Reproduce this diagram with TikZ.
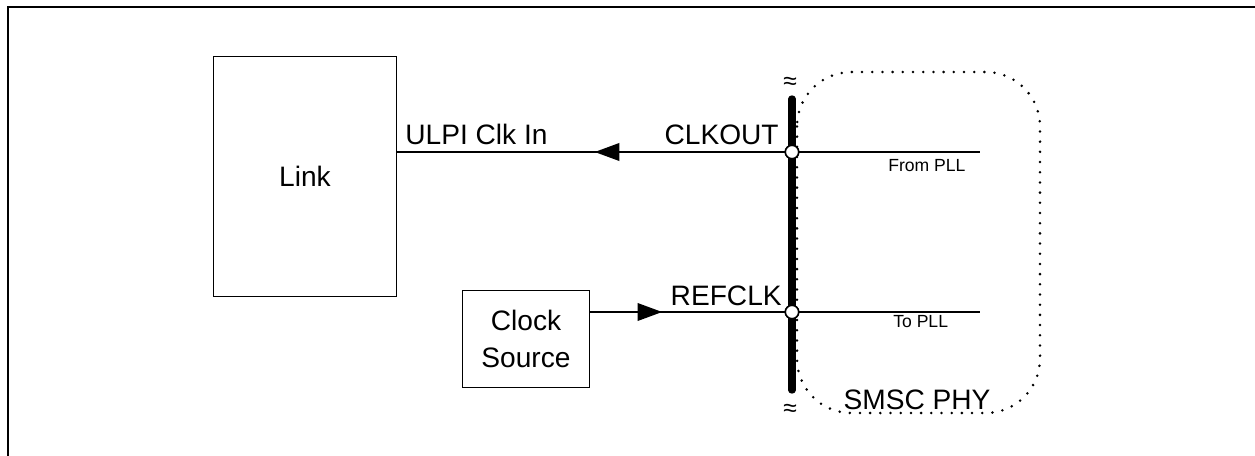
\documentclass[tikz,border=0pt]{standalone}
\usepackage{fontspec}
\setmainfont{Liberation Sans}
\usetikzlibrary{arrows.meta,decorations.markings}
\tikzset{
  box/.style={draw,line width=0.6pt,align=center,inner sep=0pt,font=\fontsize{16}{21}\selectfont},
  wire/.style={line width=1.05pt},
  bus/.style={line width=4.2pt,line cap=round},
  junction/.style={circle,draw,fill=white,line width=0.9pt,minimum size=7.6pt,inner sep=0pt},
  midarrow/.style={postaction={decorate},decoration={markings,mark=at position #1 with {\arrow{Triangle[length=14pt,width=10pt]}}}},
  phybound/.style={line width=1.6pt,dash pattern=on 0pt off 5.8pt,line cap=round,rounded corners=31pt},
  lbl/.style={font=\fontsize{16}{19}\selectfont,inner sep=0pt},
  smalllbl/.style={font=\fontsize{10}{12}\selectfont,inner sep=0pt},
  approxlbl/.style={font=\fontsize{14}{14}\selectfont,inner sep=0pt}
}
\begin{document}
\begin{tikzpicture}[x=0.02cm,y=-0.02cm]
\useasboundingbox (0,0) rectangle (1255,456);
% outer frame
\draw[line width=1.2pt] (8,456) -- (8,7) -- (1255,7);
% PHY boundary
\draw[phybound] (797,72) rectangle (1040,413);
\node[lbl,anchor=base] (phy) at (917,409) {SMSC PHY};
% blocks
\node[box,minimum width=104.3pt,minimum height=136.6pt] (link) at (305,176.5) {Link};
\node[box,minimum width=72.6pt,minimum height=55.6pt] (clksrc) at (526,339) {Clock\\Source};
% bus
\coordinate (bustop) at (792,99);
\coordinate (busbot) at (792,390);
\node[approxlbl] (approxtop) at (790,83) {≈};
\node[approxlbl] (approxbot) at (790,410) {≈};
\node[junction] (jout) at (792,152) {};
\node[junction] (jref) at (792,312) {};
\coordinate (fromPLL) at (980,152);
\coordinate (toPLL) at (980,312);
% wires
\draw[wire,midarrow=0.49] (jout.west) -- (link.east |- jout);
\draw[wire,midarrow=0.37] (clksrc.east |- jref) -- (jref.west);
\draw[wire] (jout.east) -- (fromPLL);
\draw[wire] (jref.east) -- (toPLL);
\draw[bus] (bustop) -- (busbot);
\node[junction] at (jout) {};
\node[junction] at (jref) {};
% labels
\node[lbl,anchor=base west] (ulpi) at (405,145) {ULPI Clk In};
\node[lbl,anchor=base east] (clkout) at (779,145) {CLKOUT};
\node[lbl,anchor=base east] (refclk) at (782,305) {REFCLK};
\node[smalllbl,anchor=base west] (frompll) at (888,172) {From PLL};
\node[smalllbl,anchor=base west] (topll) at (893,327) {To PLL};
\end{tikzpicture}
\end{document}
